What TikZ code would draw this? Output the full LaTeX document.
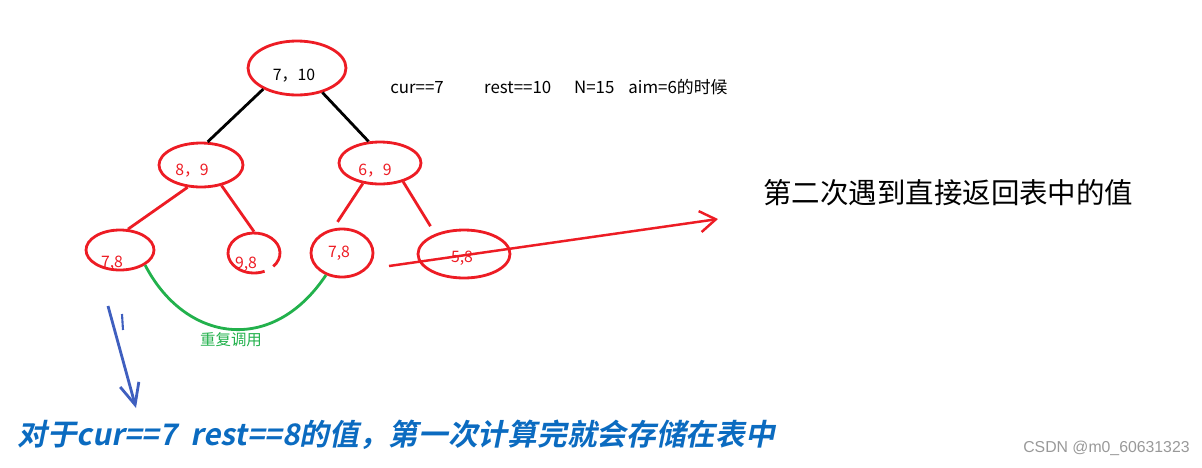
\documentclass[tikz,border=0pt]{standalone}
\usepackage{fontspec}
\setmainfont{Noto Sans CJK SC}
\newfontfamily\slantbold{Noto Sans CJK SC Bold}[FakeSlant=0.2]
\newfontfamily\marksans{Liberation Sans}
\usetikzlibrary{arrows.meta, shapes.geometric}
\definecolor{treered}{HTML}{ED1C24}
\definecolor{callgreen}{HTML}{22B14C}
\definecolor{pointblue}{HTML}{3F5FBF}
\definecolor{memoblue}{HTML}{0B6BC0}

\begin{document}
\begin{tikzpicture}[
    x=0.02cm, y=-0.02cm,
    >={Straight Barb[length=9pt, width=12pt]},
    knot/.style={draw=treered, ellipse, line width=1.6pt, inner sep=0pt, #1},
    knot/.default={},
    branch/.style={line width=1.6pt, #1},
    branch/.default={},
    numlabel/.style={font=\fontsize{9}{11}\selectfont, inner sep=0pt, #1},
    numlabel/.default={},
]
    \useasboundingbox (0,0) rectangle (1202,467);

    % tree
    \node[knot={minimum width=1.96cm, minimum height=1.08cm}] (root) at (297,68) {};
    \node[numlabel] (rootlbl) at (294,76) {7，10};

    \node[knot={minimum width=1.68cm, minimum height=0.88cm}] (n89) at (201,165) {};
    \node[numlabel={treered}] (n89lbl) at (192,171) {8，9};

    \node[knot={minimum width=1.64cm, minimum height=0.84cm}] (n69) at (380,163) {};
    \node[numlabel={treered}] (n69lbl) at (375,171) {6，9};

    \node[knot={minimum width=1.36cm, minimum height=0.80cm}] (l78) at (120,250) {};
    \node[numlabel={treered}] (l78lbl) at (112,263) {7,8};

    % 9,8 is left open at the bottom right
    \node[knot={draw=none, minimum width=1.04cm, minimum height=0.80cm}] (n98) at (254,253) {};
    \draw[branch={treered}] (n98) ++(-42:0.52cm and 0.4cm)
        arc[start angle=-42, end angle=294, x radius=0.52cm, y radius=0.4cm];
    \node[numlabel={treered}] (n98lbl) at (246,264) {9,8};

    \node[knot={minimum width=1.24cm, minimum height=0.96cm}] (r78) at (342,253) {};
    \node[numlabel={treered}] (r78lbl) at (339,253) {7,8};

    \node[knot={minimum width=1.84cm, minimum height=0.96cm}] (n58) at (464,254) {};
    \node[numlabel={treered}] (n58lbl) at (462,258) {5,8};

    \draw[branch] (root.212) -- (n89.74);
    \draw[branch] (root.316) -- (n69.118);
    \draw[branch={treered}] (n89.239) -- (l78.69);
    \draw[branch={treered}] (n89.315) -- (n98.north);
    \draw[branch={treered}, shorten >=1.6mm] (n69.230) -- (r78.110);
    \draw[branch={treered}, shorten >=1.8mm] (n69.321) -- (n58.145);

    % state note
    \node[numlabel={font=\fontsize{9.6}{11}\selectfont}, anchor=west] (state) at (390,87)
        {cur==7\hspace{23pt}rest==10\hspace{13pt}N=15\hspace{8pt}aim=6的时候};

    % repeated call
    \draw[branch={callgreen}] (l78.329) .. controls (185,342) and (272,356) .. (r78.234);
    \node[numlabel={callgreen, font=\fontsize{8.8}{10}\selectfont}] (repeat) at (231,340) {重复调用};

    % second time: look up the table
    \coordinate (memo0) at (389,266);
    \coordinate (memo1) at (718,219);
    \draw[->, treered, line width=1.4pt] (memo0) -- (memo1);
    \node[anchor=west, inner sep=0pt, font=\fontsize{16.2}{19}\selectfont] (second) at (763,193) {第二次遇到直接返回表中的值};

    % first time: store in the table
    \coordinate (tick0) at (122,314);
    \coordinate (tick1) at (123,330);
    \draw[pointblue, line width=1.2pt] (tick0) -- (tick1);
    \coordinate (blue0) at (108,306);
    \coordinate (blue1) at (136,408);
    \draw[->, pointblue, line width=1.6pt, >={Straight Barb[length=12pt, width=11pt]}] (blue0) -- (blue1);
    \node[anchor=west, inner sep=0pt, text=memoblue, font=\slantbold\fontsize{16.9}{20}\selectfont] (first) at (17,435)
        {对于cur==7\hspace{8pt}rest==8的值，第一次计算完就会存储在表中};

    \node[anchor=east, inner sep=0pt, text=black!40, font=\marksans\fontsize{9}{11}\selectfont] (mark) at (1190,448) {CSDN @m0\_60631323};
\end{tikzpicture}
\end{document}
